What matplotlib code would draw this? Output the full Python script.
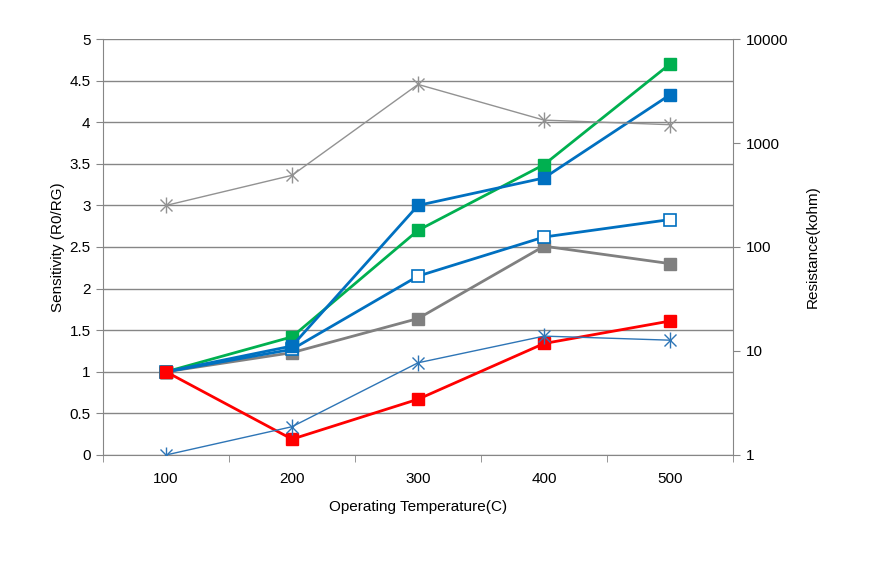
import matplotlib.pyplot as plt
import matplotlib.ticker as mticker
import numpy as np

plt.rcParams['font.family'] = ['Liberation Sans', 'DejaVu Sans']

temps = ['100', '200', '300', '400', '500']

# sensitivity (left axis)
sens_green = [1.0, 1.42, 2.70, 3.49, 4.70]
sens_blue = [1.0, 1.31, 3.00, 3.33, 4.33]
sens_blue_open = [1.0, 1.27, 2.15, 2.62, 2.83]
sens_gray = [1.0, 1.23, 1.64, 2.51, 2.30]
sens_red = [1.0, 0.19, 0.67, 1.34, 1.61]

# resistance in kohm (right axis, log)
res_gray = [251, 489, 3660, 1660, 1500]
res_blue = [1.0, 1.87, 7.7, 13.9, 12.7]

x = np.arange(len(temps))
axcol = '#868686'

fig = plt.figure(figsize=(8.71, 5.68), dpi=100)
ax = fig.add_axes([0.1183, 0.199, 0.7233, 0.7323])

ax.set_xlim(-0.5, 4.5)
ax.set_ylim(0, 5)
ax.set_yticks(np.arange(0, 5.01, 0.5))
ax.yaxis.set_major_formatter(mticker.FuncFormatter(lambda v, p: f'{v:g}'))
ax.grid(axis='y', color=axcol, lw=1)
ax.set_axisbelow(True)

ax.plot(x, sens_gray, color='#808080', lw=2, marker='s', ms=8, zorder=3)
ax.plot(x, sens_blue_open, color='#0070C0', lw=2, marker='s', ms=8,
        mfc='white', mec='#0070C0', mew=1.2, zorder=3)
ax.plot(x, sens_green, color='#00B050', lw=2, marker='s', ms=8, zorder=3)
ax.plot(x, sens_blue, color='#0070C0', lw=2, marker='s', ms=8, zorder=3)
ax.plot(x, sens_red, color='#FF0000', lw=2, marker='s', ms=8, zorder=4)

ax.set_xticks(x)
ax.set_xticklabels(temps)
ax.set_xticks(np.arange(-0.5, 4.6, 1), minor=True)
ax.tick_params(axis='x', which='major', length=0, pad=12, labelsize=11)
ax.tick_params(axis='x', which='minor', length=5, color=axcol, direction='out')
ax.tick_params(axis='y', length=5, color=axcol, labelsize=11, pad=4)
for s in ['top', 'right']:
    ax.spines[s].set_visible(False)
for s in ['left', 'bottom']:
    ax.spines[s].set_color(axcol)

ax.set_xlabel('Operating Temperature(C)', fontsize=11, labelpad=10)
ax.set_ylabel('Sensitivity (R0/RG)', fontsize=11, labelpad=3)

ax2 = ax.twinx()
ax2.set_yscale('log')
ax2.set_ylim(1, 10000)
ax2.set_yticks([1, 10, 100, 1000, 10000])
ax2.yaxis.set_major_formatter(mticker.FuncFormatter(lambda v, p: f'{v:.0f}'))
ax2.yaxis.set_minor_locator(mticker.NullLocator())
ax2.tick_params(axis='y', length=5, color=axcol, labelsize=11, pad=4)
for s in ['top', 'left', 'bottom']:
    ax2.spines[s].set_visible(False)
ax2.spines['right'].set_color(axcol)

ax2.plot(x, res_gray, color='#929292', lw=1, marker='x', ms=9, mew=1)
ax2.plot(x, res_gray, ls='none', color='#929292', marker='|', ms=11, mew=1)
ax2.plot(x, res_blue, color='#2E75B6', lw=1, marker='x', ms=9, mew=1)
ax2.plot(x, res_blue, ls='none', color='#2E75B6', marker='|', ms=11, mew=1)

ax2.set_ylabel('Resistance(kohm)', fontsize=11, labelpad=13)

fig.savefig('out.png', dpi=100)
